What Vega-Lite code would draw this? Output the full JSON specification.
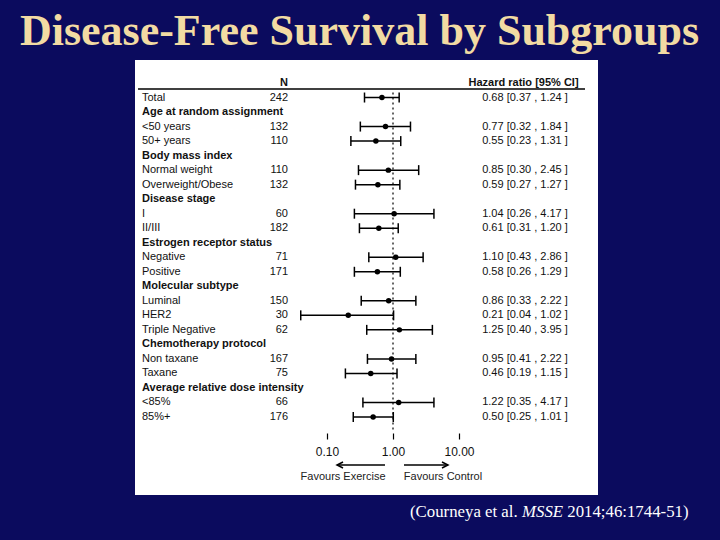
{
  "$schema": "https://vega.github.io/schema/vega-lite/v6.json",
  "width": 463,
  "height": 435,
  "autosize": {"type": "none"},
  "padding": {"left": 135, "top": 60, "right": 122, "bottom": 45},
  "background": "#0b0b5e",
  "title": {"text": "Disease-Free Survival by Subgroups", "font": "Liberation Serif", "fontSize": 44, "fontWeight": "bold", "color": "#f2dba3", "anchor": "middle", "dx": -7, "offset": 6},
  "config": {
    "view": {"fill": "white", "stroke": null},
    "text": {"font": "Liberation Sans", "fontSize": 11, "color": "#111"},
    "axisX": {"domain": false, "grid": false, "title": null, "ticks": true, "tickSize": 6, "tickColor": "#000", "tickWidth": 1.2, "labelFont": "Liberation Sans", "labelFontSize": 12, "labelColor": "#111", "labelPadding": 7, "offset": -62}
  },
  "data": {"values": [
    {"label": " ", "kind": "header", "nt": "N", "txt": "Hazard ratio [95% CI]"},
    {"label": "Total", "kind": "row", "nt": "242", "hr": 0.68, "lo": 0.37, "hi": 1.24, "txt": "0.68 [0.37 , 1.24 ]"},
    {"label": "Age at random assignment", "kind": "group"},
    {"label": "<50 years", "kind": "row", "nt": "132", "hr": 0.77, "lo": 0.32, "hi": 1.84, "txt": "0.77 [0.32 , 1.84 ]"},
    {"label": "50+ years", "kind": "row", "nt": "110", "hr": 0.55, "lo": 0.23, "hi": 1.31, "txt": "0.55 [0.23 , 1.31 ]"},
    {"label": "Body mass index", "kind": "group"},
    {"label": "Normal weight", "kind": "row", "nt": "110", "hr": 0.85, "lo": 0.30, "hi": 2.45, "txt": "0.85 [0.30 , 2.45 ]"},
    {"label": "Overweight/Obese", "kind": "row", "nt": "132", "hr": 0.59, "lo": 0.27, "hi": 1.27, "txt": "0.59 [0.27 , 1.27 ]"},
    {"label": "Disease stage", "kind": "group"},
    {"label": "I", "kind": "row", "nt": "60", "hr": 1.04, "lo": 0.26, "hi": 4.17, "txt": "1.04 [0.26 , 4.17 ]"},
    {"label": "II/III", "kind": "row", "nt": "182", "hr": 0.61, "lo": 0.31, "hi": 1.20, "txt": "0.61 [0.31 , 1.20 ]"},
    {"label": "Estrogen receptor status", "kind": "group"},
    {"label": "Negative", "kind": "row", "nt": "71", "hr": 1.10, "lo": 0.43, "hi": 2.86, "txt": "1.10 [0.43 , 2.86 ]"},
    {"label": "Positive", "kind": "row", "nt": "171", "hr": 0.58, "lo": 0.26, "hi": 1.29, "txt": "0.58 [0.26 , 1.29 ]"},
    {"label": "Molecular subtype", "kind": "group"},
    {"label": "Luminal", "kind": "row", "nt": "150", "hr": 0.86, "lo": 0.33, "hi": 2.22, "txt": "0.86 [0.33 , 2.22 ]"},
    {"label": "HER2", "kind": "row", "nt": "30", "hr": 0.21, "lo": 0.04, "hi": 1.02, "txt": "0.21 [0.04 , 1.02 ]"},
    {"label": "Triple Negative", "kind": "row", "nt": "62", "hr": 1.25, "lo": 0.40, "hi": 3.95, "txt": "1.25 [0.40 , 3.95 ]"},
    {"label": "Chemotherapy protocol", "kind": "group"},
    {"label": "Non taxane", "kind": "row", "nt": "167", "hr": 0.95, "lo": 0.41, "hi": 2.22, "txt": "0.95 [0.41 , 2.22 ]"},
    {"label": "Taxane", "kind": "row", "nt": "75", "hr": 0.46, "lo": 0.19, "hi": 1.15, "txt": "0.46 [0.19 , 1.15 ]"},
    {"label": "Average relative dose intensity", "kind": "group"},
    {"label": "<85%", "kind": "row", "nt": "66", "hr": 1.22, "lo": 0.35, "hi": 4.17, "txt": "1.22 [0.35 , 4.17 ]"},
    {"label": "85%+", "kind": "row", "nt": "176", "hr": 0.50, "lo": 0.25, "hi": 1.01, "txt": "0.50 [0.25 , 1.01 ]"}
  ]},
  "layer": [
    {
      "transform": [{"filter": "isValid(datum.hr)"}],
      "mark": {"type": "rule", "strokeWidth": 1.5, "color": "#000"},
      "encoding": {
        "x": {"field": "lo", "type": "quantitative", "scale": {"type": "log", "domain": [0.00012328, 1276.5], "nice": false}, "axis": {"title": null, "values": [0.1, 1, 10], "format": ".2f"}},
        "x2": {"field": "hi"},
        "y": {"field": "label", "type": "nominal", "scale": {"type": "point", "domain": [" ", "Total", "Age at random assignment", "<50 years", "50+ years", "Body mass index", "Normal weight", "Overweight/Obese", "Disease stage", "I", "II/III", "Estrogen receptor status", "Negative", "Positive", "Molecular subtype", "Luminal", "HER2", "Triple Negative", "Chemotherapy protocol", "Non taxane", "Taxane", "Average relative dose intensity", "<85%", "85%+"], "range": [23, 357], "padding": 0}, "axis": null}
      }
    },
    {
      "transform": [{"filter": "datum.kind == 'header'"}],
      "mark": {"type": "rule", "yOffset": 6, "strokeWidth": 1.3, "color": "#000"},
      "encoding": {
        "x": {"datum": 0.000137, "type": "quantitative", "axis": {"title": null}},
        "x2": {"datum": 811},
        "y": {"datum": " ", "type": "nominal", "axis": null}
      }
    },
    {
      "transform": [{"filter": "datum.kind == 'header'"}],
      "mark": {"type": "rule", "yOffset": -5, "y2Offset": 15, "strokeDash": [2, 3], "strokeWidth": 1.2, "color": "#000"},
      "encoding": {
        "x": {"datum": 1, "type": "quantitative", "axis": {"title": null}},
        "y": {"datum": "Total", "type": "nominal", "axis": null},
        "y2": {"datum": "85%+"}
      }
    },
    {
      "transform": [{"filter": "isValid(datum.hr)"}],
      "mark": {"type": "tick", "orient": "vertical", "size": 10, "thickness": 1.5, "color": "#000", "opacity": 1},
      "encoding": {
        "x": {"field": "lo", "type": "quantitative", "axis": {"title": null}},
        "y": {"field": "label", "type": "nominal", "axis": null}
      }
    },
    {
      "transform": [{"filter": "isValid(datum.hr)"}],
      "mark": {"type": "tick", "orient": "vertical", "size": 10, "thickness": 1.5, "color": "#000", "opacity": 1},
      "encoding": {
        "x": {"field": "hi", "type": "quantitative", "axis": {"title": null}},
        "y": {"field": "label", "type": "nominal", "axis": null}
      }
    },
    {
      "transform": [{"filter": "isValid(datum.hr)"}],
      "mark": {"type": "point", "filled": true, "size": 30, "color": "#000", "opacity": 1},
      "encoding": {
        "x": {"field": "hr", "type": "quantitative", "axis": {"title": null}},
        "y": {"field": "label", "type": "nominal", "axis": null}
      }
    },
    {
      "transform": [{"filter": "datum.kind == 'group'"}],
      "mark": {"type": "text", "align": "left", "fontWeight": "bold"},
      "encoding": {
        "x": {"datum": 0.0001574, "type": "quantitative", "axis": {"title": null}},
        "y": {"field": "label", "type": "nominal", "axis": null},
        "text": {"field": "label"}
      }
    },
    {
      "transform": [{"filter": "datum.kind == 'row'"}],
      "mark": {"type": "text", "align": "left"},
      "encoding": {
        "x": {"datum": 0.0001574, "type": "quantitative", "axis": {"title": null}},
        "y": {"field": "label", "type": "nominal", "axis": null},
        "text": {"field": "label"}
      }
    },
    {
      "transform": [{"filter": "datum.kind == 'header'"}],
      "mark": {"type": "text", "align": "right", "fontWeight": "bold"},
      "encoding": {
        "x": {"datum": 0.02565, "type": "quantitative", "axis": {"title": null}},
        "y": {"field": "label", "type": "nominal", "axis": null},
        "text": {"field": "nt"}
      }
    },
    {
      "transform": [{"filter": "datum.kind == 'row'"}],
      "mark": {"type": "text", "align": "right"},
      "encoding": {
        "x": {"datum": 0.02565, "type": "quantitative", "axis": {"title": null}},
        "y": {"field": "label", "type": "nominal", "axis": null},
        "text": {"field": "nt"}
      }
    },
    {
      "transform": [{"filter": "datum.kind == 'header'"}],
      "mark": {"type": "text", "align": "center", "fontWeight": "bold"},
      "encoding": {
        "x": {"datum": 95, "type": "quantitative", "axis": {"title": null}},
        "y": {"field": "label", "type": "nominal", "axis": null},
        "text": {"field": "txt"}
      }
    },
    {
      "transform": [{"filter": "datum.kind == 'row'"}],
      "mark": {"type": "text", "align": "center"},
      "encoding": {
        "x": {"datum": 100, "type": "quantitative", "axis": {"title": null}},
        "y": {"field": "label", "type": "nominal", "axis": null},
        "text": {"field": "txt"}
      }
    },
    {
      "transform": [{"filter": "datum.kind == 'header'"}],
      "mark": {"type": "rule", "yOffset": 48, "strokeWidth": 1.5, "color": "#000"},
      "encoding": {
        "x": {"datum": 0.756, "type": "quantitative", "axis": {"title": null}},
        "x2": {"datum": 0.1418},
        "y": {"datum": "85%+", "type": "nominal", "axis": null}
      }
    },
    {
      "transform": [{"filter": "datum.kind == 'header'"}],
      "mark": {"type": "rule", "yOffset": 48, "strokeWidth": 1.5, "color": "#000"},
      "encoding": {
        "x": {"datum": 1.468, "type": "quantitative", "axis": {"title": null}},
        "x2": {"datum": 6.81},
        "y": {"datum": "85%+", "type": "nominal", "axis": null}
      }
    },
    {
      "transform": [{"filter": "datum.kind == 'header'"}],
      "mark": {"type": "point", "shape": "M2,-1L0,0L2,1", "size": 36, "filled": false, "strokeWidth": 1.5, "color": "#000", "opacity": 1, "yOffset": 48},
      "encoding": {
        "x": {"datum": 0.1418, "type": "quantitative", "axis": {"title": null}},
        "y": {"datum": "85%+", "type": "nominal", "axis": null}
      }
    },
    {
      "transform": [{"filter": "datum.kind == 'header'"}],
      "mark": {"type": "point", "shape": "M-2,-1L0,0L-2,1", "size": 36, "filled": false, "strokeWidth": 1.5, "color": "#000", "opacity": 1, "yOffset": 48},
      "encoding": {
        "x": {"datum": 6.81, "type": "quantitative", "axis": {"title": null}},
        "y": {"datum": "85%+", "type": "nominal", "axis": null}
      }
    },
    {
      "transform": [{"filter": "datum.kind == 'header'"}],
      "mark": {"type": "text", "align": "center", "dy": 60, "text": "Favours Exercise", "color": "#222"},
      "encoding": {
        "x": {"datum": 0.175, "type": "quantitative", "axis": {"title": null}},
        "y": {"datum": "85%+", "type": "nominal", "axis": null}
      }
    },
    {
      "transform": [{"filter": "datum.kind == 'header'"}],
      "mark": {"type": "text", "align": "center", "dy": 60, "text": "Favours Control", "color": "#222"},
      "encoding": {
        "x": {"datum": 5.72, "type": "quantitative", "axis": {"title": null}},
        "y": {"datum": "85%+", "type": "nominal", "axis": null}
      }
    },
    {
      "transform": [{"filter": "datum.kind == 'header'"}],
      "mark": {"type": "text", "align": "left", "dy": 95, "text": "(Courneya et al.", "font": "Liberation Serif", "fontSize": 16.8, "color": "#ffffff"},
      "encoding": {
        "x": {"datum": 1.81, "type": "quantitative", "axis": {"title": null}},
        "y": {"datum": "85%+", "type": "nominal", "axis": null}
      }
    },
    {
      "transform": [{"filter": "datum.kind == 'header'"}],
      "mark": {"type": "text", "align": "left", "dy": 95, "text": "MSSE", "font": "Liberation Serif", "fontStyle": "italic", "fontSize": 16.8, "color": "#ffffff"},
      "encoding": {
        "x": {"datum": 90.1, "type": "quantitative", "axis": {"title": null}},
        "y": {"datum": "85%+", "type": "nominal", "axis": null}
      }
    },
    {
      "transform": [{"filter": "datum.kind == 'header'"}],
      "mark": {"type": "text", "align": "left", "dy": 95, "text": "2014;46:1744-51)", "font": "Liberation Serif", "fontSize": 16.8, "color": "#ffffff"},
      "encoding": {
        "x": {"datum": 437.5, "type": "quantitative", "axis": {"title": null}},
        "y": {"datum": "85%+", "type": "nominal", "axis": null}
      }
    }
  ]
}
